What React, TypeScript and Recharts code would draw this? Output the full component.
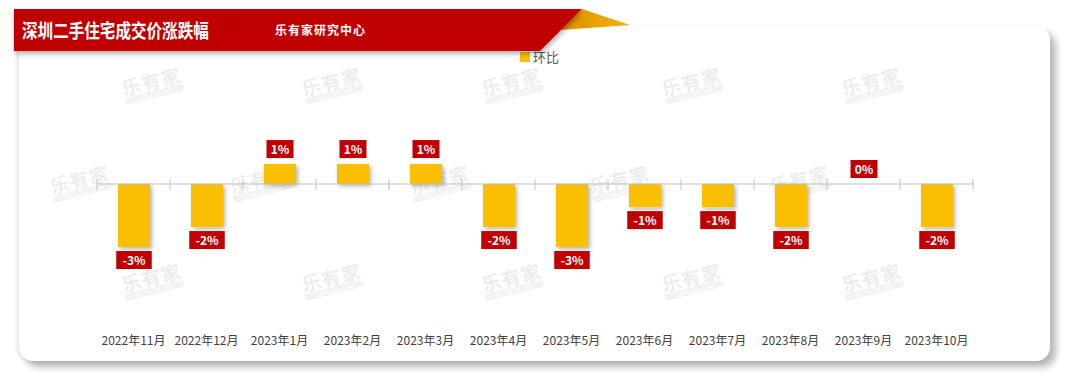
import { BarChart, Bar, XAxis, YAxis, ReferenceLine, LabelList } from 'recharts'

const months = [
  '2022年11月', '2022年12月', '2023年1月', '2023年2月', '2023年3月', '2023年4月',
  '2023年5月', '2023年6月', '2023年7月', '2023年8月', '2023年9月', '2023年10月',
]
// 环比 (%)
const momChange = [-3.0, -2.05, 0.95, 0.95, 0.95, -2.05, -3.0, -1.1, -1.1, -2.05, 0, -2.05]

const title = '深圳二手住宅成交价涨跌幅'
const source = '乐有家研究中心'
const seriesName = '环比'

const FONT = '"Noto Sans CJK SC", "Noto Sans", sans-serif'
const RED = '#C00000'
const YELLOW = '#FABF00'

// watermark spots on the card
const watermarks = [
  [122, 70], [302, 70], [482, 70], [662, 70], [842, 70],
  [50, 168], [230, 168], [410, 168], [590, 168], [770, 168],
  [122, 266], [302, 266], [482, 266], [662, 266], [842, 266],
]

const data = months.map((m, i) => ({ month: m, mom: momChange[i] }))

const ShadowBar = (props: any) => {
  const { x, y, width, height } = props
  const top = Math.min(y, y + height)
  const h = Math.abs(height)
  if (!h) return null
  return <rect x={x} y={top} width={width} height={h} fill={YELLOW} filter="url(#barShadow)" />
}

const ValueTag = (props: any) => {
  const { x, y, width, height, value } = props
  const cx = x + width / 2
  const top = Math.min(y, y + height)
  const bottom = Math.max(y, y + height)
  const text = `${Math.round(value)}%`
  const w = 10 + text.length * 8.5
  const h = 18
  const boxY = value >= 0 ? top - 6 - h : bottom + 4
  return (
    <g>
      <rect x={cx - w / 2} y={boxY} width={w} height={h} fill={RED} />
      <text x={cx} y={boxY + 13.5} textAnchor="middle" fill="#fff" fontSize={12} fontWeight={700} fontFamily={FONT}>
        {text}
      </text>
    </g>
  )
}

const ZeroLine = (props: any) => {
  const { x1, y1, x2 } = props
  const n = months.length
  const ticks = []
  for (let i = 0; i <= n; i++) {
    const tx = x1 + ((x2 - x1) * i) / n
    ticks.push(<line key={i} x1={tx} x2={tx} y1={y1 - 5} y2={y1 + 6} stroke="#BFBFBF" strokeWidth={1} />)
  }
  return (
    <g>
      <line x1={x1} x2={x2} y1={y1} y2={y1} stroke="#BFBFBF" strokeWidth={1} />
      {ticks}
    </g>
  )
}

const MonthTick = (props: any) => {
  const { x, y, payload } = props
  return (
    <text x={x} y={y + 48} textAnchor="middle" fill="#404040" fontSize={12} fontFamily={FONT}>
      {payload.value}
    </text>
  )
}

export default function App() {
  return (
    <div style={{ position: 'absolute', left: 0, top: 0, width: 1080, height: 378, background: '#fff', overflow: 'hidden', fontFamily: FONT }}>
      <svg width={0} height={0} style={{ position: 'absolute' }}>
        <defs>
          <filter id="barShadow" x="-30%" y="-30%" width="160%" height="160%">
            <feDropShadow dx={2} dy={2} stdDeviation={2} floodColor="#000" floodOpacity={0.3} />
          </filter>
        </defs>
      </svg>

      {/* card */}
      <div
        style={{
          position: 'absolute', left: 19, top: 26, width: 1031, height: 335, background: '#fff',
          borderRadius: 14, boxShadow: '6px 6px 7px rgba(0,0,0,0.28), -2px 1px 4px rgba(0,0,0,0.10)',
        }}
      />

      {watermarks.map(([wx, wy], i) => (
        <div key={i} style={{ position: 'absolute', left: wx, top: wy, transform: 'rotate(-14deg)', color: '#EDEDED', textAlign: 'center' }}>
          <div style={{ fontSize: 19, fontWeight: 700, lineHeight: '21px', letterSpacing: 1 }}>乐有家</div>
          <div style={{ fontSize: 6, lineHeight: '7px', background: '#F2F2F2', color: '#fff', borderRadius: 4, padding: '0 4px' }}>LeYouJia.com</div>
        </div>
      ))}

      {/* legend */}
      <div style={{ position: 'absolute', left: 520, top: 47, display: 'flex', alignItems: 'center', fontSize: 13, color: '#595959' }}>
        <span style={{ display: 'inline-block', width: 10, height: 10, background: YELLOW, marginRight: 3 }} />
        {seriesName}
      </div>

      <div style={{ position: 'absolute', left: 0, top: 0 }}>
        <BarChart width={1080} height={378} data={data} margin={{ top: 121, right: 107, bottom: 59, left: 97 }}>
          <XAxis dataKey="month" axisLine={false} tickLine={false} interval={0} height={30} tick={<MonthTick />} />
          <YAxis hide domain={[-5, 3]} />
          <ReferenceLine y={0} shape={<ZeroLine />} />
          <Bar dataKey="mom" name={seriesName} barSize={32} isAnimationActive={false} shape={<ShadowBar />}>
            <LabelList dataKey="mom" content={<ValueTag />} />
          </Bar>
        </BarChart>
      </div>

      {/* title banner */}
      <svg width={660} height={60} style={{ position: 'absolute', left: 0, top: 0 }}>
        <defs>
          <filter id="bannerShadow" x="-5%" y="-20%" width="110%" height="160%">
            <feDropShadow dx={1} dy={3} stdDeviation={2.5} floodColor="#000" floodOpacity={0.3} />
          </filter>
          <linearGradient id="foldGrad" x1="0" y1="0" x2="1" y2="0">
            <stop offset="0%" stopColor="#D98E00" />
            <stop offset="100%" stopColor="#F7B500" />
          </linearGradient>
        </defs>
        <polygon points="560,30 582,9 630,25" fill="url(#foldGrad)" />
        <polygon points="14,9 582,9 540,51 14,51" fill={RED} filter="url(#bannerShadow)" />
        <text transform="translate(22,38) scale(0.82,1)" x={0} y={0} fill="#fff" fontSize={19} fontWeight={700} fontFamily={FONT}>
          {title}
        </text>
        <text x={275} y={35} fill="#fff" fontSize={12} fontWeight={700} fontFamily={FONT} letterSpacing={1}>
          {source}
        </text>
      </svg>
    </div>
  )
}
